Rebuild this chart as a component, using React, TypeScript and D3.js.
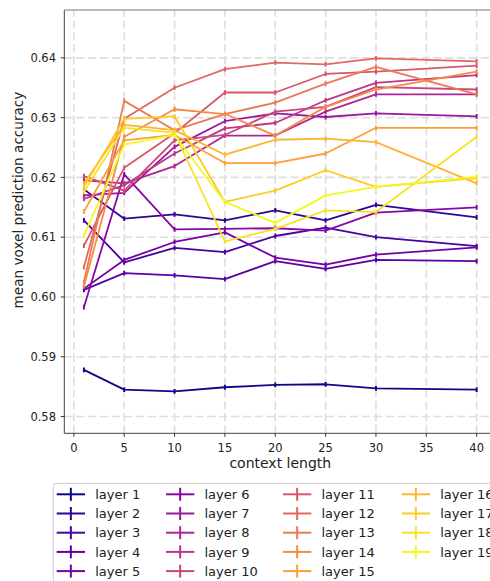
import React from 'react';
import * as d3 from 'd3';

const X_VALUES = [1, 5, 10, 15, 20, 25, 30, 40];
const X_TICKS = [0, 5, 10, 15, 20, 25, 30, 35, 40];
const Y_TICKS = [0.58, 0.59, 0.6, 0.61, 0.62, 0.63, 0.64];
const X_DOMAIN: [number, number] = [-0.95, 41.95];
const Y_DOMAIN: [number, number] = [0.5772, 0.648];

const LAYER_1 = [0.5878, 0.5845, 0.5842, 0.5849, 0.5853, 0.5854, 0.5847, 0.5845];
const LAYER_2 = [0.618, 0.6131, 0.6138, 0.6128, 0.6145, 0.6128, 0.6154, 0.6133];
const LAYER_3 = [0.6128, 0.6058, 0.6082, 0.6075, 0.6102, 0.6116, 0.61, 0.6085];
const LAYER_4 = [0.6012, 0.604, 0.6036, 0.603, 0.606, 0.6047, 0.6062, 0.606];
const LAYER_5 = [0.6014, 0.6062, 0.6092, 0.6108, 0.6066, 0.6054, 0.6071, 0.6083];
const LAYER_6 = [0.5983, 0.6205, 0.6113, 0.6114, 0.6115, 0.6111, 0.6141, 0.615];
const LAYER_7 = [0.617, 0.6174, 0.6251, 0.6294, 0.6307, 0.6301, 0.6307, 0.6302];
const LAYER_8 = [0.6195, 0.619, 0.6219, 0.627, 0.627, 0.631, 0.6339, 0.6339];
const LAYER_9 = [0.6164, 0.6187, 0.624, 0.6282, 0.6291, 0.6329, 0.6358, 0.6371];
const LAYER_10 = [0.6202, 0.6178, 0.6262, 0.6271, 0.631, 0.6318, 0.6351, 0.6347];
const LAYER_11 = [0.6086, 0.6216, 0.6274, 0.6342, 0.6342, 0.6373, 0.6377, 0.6387];
const LAYER_12 = [0.605, 0.6298, 0.635, 0.6381, 0.6392, 0.6389, 0.6399, 0.6394];
const LAYER_13 = [0.6025, 0.6328, 0.6279, 0.6306, 0.6325, 0.6357, 0.6385, 0.6339];
const LAYER_14 = [0.6018, 0.6268, 0.6314, 0.6306, 0.627, 0.6318, 0.6347, 0.6377];
const LAYER_15 = [0.6143, 0.6262, 0.6271, 0.6224, 0.6224, 0.624, 0.6283, 0.6283];
const LAYER_16 = [0.619, 0.6288, 0.6279, 0.6238, 0.6263, 0.6265, 0.6259, 0.619];
const LAYER_17 = [0.6184, 0.6298, 0.6302, 0.6159, 0.6178, 0.6212, 0.6184, 0.6199];
const LAYER_18 = [0.6176, 0.6283, 0.6275, 0.6093, 0.6114, 0.6145, 0.6142, 0.6268];
const LAYER_19 = [0.6103, 0.6255, 0.6271, 0.6159, 0.6124, 0.617, 0.6184, 0.6201];

const SERIES = [
  LAYER_1, LAYER_2, LAYER_3, LAYER_4, LAYER_5, LAYER_6, LAYER_7, LAYER_8, LAYER_9, LAYER_10,
  LAYER_11, LAYER_12, LAYER_13, LAYER_14, LAYER_15, LAYER_16, LAYER_17, LAYER_18, LAYER_19,
];
const LAYER_NAMES = SERIES.map((_, i) => `layer ${i + 1}`);
const LAYER_ERR = [
  0.0004, 0.0004, 0.0004, 0.0004, 0.0004, 0.0004, 0.0004, 0.0004, 0.0004, 0.0004,
  0.0004, 0.0004, 0.0004, 0.0004, 0.0004, 0.0004, 0.0004, 0.0004, 0.0004,
];

const FONT = '"DejaVu Sans", Verdana, sans-serif';

export default function App() {
  const W = 490;
  const H = 581;
  const left = 64.3;
  const right = 496.3;
  const top = 10;
  const bottom = 433.3;

  const x = d3.scaleLinear().domain(X_DOMAIN).range([left, right]);
  const y = d3.scaleLinear().domain(Y_DOMAIN).range([bottom, top]);
  const color = (i: number) => d3.interpolatePlasma(i / (SERIES.length - 1));
  const line = d3
    .line<number>()
    .x((_, i) => x(X_VALUES[i]))
    .y((d) => y(d));

  const gridColor = '#dedede';
  const gridDash = '8.3 3.6';

  // legend layout
  const legLeft = 53.3;
  const legTop = 483.3;
  const rowY0 = 494.3;
  const rowStep = 19.2;
  const colX = [56.7, 166, 283, 401.7];
  const rowsPerCol = 5;

  return (
    <svg
      width={W}
      height={H}
      style={{ position: 'absolute', left: 0, top: 0, background: '#fff' }}
      fontFamily={FONT}
    >
      <defs>
        <clipPath id="plotClip">
          <rect x={left} y={top} width={right - left} height={bottom - top} />
        </clipPath>
      </defs>
      <rect x={0} y={0} width={W} height={H} fill="#fff" />

      {/* grid */}
      <g>
        {X_TICKS.map((t) => (
          <line
            key={'gx' + t}
            x1={x(t)}
            x2={x(t)}
            y1={bottom}
            y2={top}
            stroke={gridColor}
            strokeWidth={1.6}
            strokeDasharray={gridDash}
          />
        ))}
        {Y_TICKS.map((t) => (
          <line
            key={'gy' + t}
            x1={left}
            x2={right}
            y1={y(t)}
            y2={y(t)}
            stroke={gridColor}
            strokeWidth={1.6}
            strokeDasharray={gridDash}
          />
        ))}
      </g>

      {/* series */}
      <g clipPath="url(#plotClip)">
        {SERIES.map((s, i) => (
          <g key={'s' + i} stroke={color(i)} fill="none" strokeWidth={1.8}>
            <path d={line(s) || ''} strokeLinejoin="round" />
            {s.map((v, j) => (
              <line
                key={j}
                x1={x(X_VALUES[j])}
                x2={x(X_VALUES[j])}
                y1={y(v - LAYER_ERR[i])}
                y2={y(v + LAYER_ERR[i])}
                strokeWidth={2}
              />
            ))}
          </g>
        ))}
      </g>

      {/* spines */}
      <g stroke="#444" strokeWidth={1} fill="none">
        <line x1={left} x2={left} y1={top} y2={bottom} />
        <line x1={left} x2={right} y1={bottom} y2={bottom} />
        <line x1={left} x2={right} y1={top} y2={top} stroke="#777" />
        <line x1={right} x2={right} y1={top} y2={bottom} />
      </g>

      {/* ticks */}
      <g stroke="#333" strokeWidth={1}>
        {X_TICKS.map((t) => (
          <line key={'tx' + t} x1={x(t)} x2={x(t)} y1={bottom} y2={bottom + 3.5} />
        ))}
        {Y_TICKS.map((t) => (
          <line key={'ty' + t} x1={left - 3.5} x2={left} y1={y(t)} y2={y(t)} />
        ))}
      </g>
      <g fontSize={11.5} fill="#222">
        {X_TICKS.map((t) => (
          <text key={'lx' + t} x={x(t)} y={451.5} textAnchor="middle">
            {d3.format('d')(t)}
          </text>
        ))}
        {Y_TICKS.map((t) => (
          <text key={'ly' + t} x={56} y={y(t) + 4.1} textAnchor="end">
            {d3.format('.2f')(t)}
          </text>
        ))}
      </g>

      {/* axis labels */}
      <text x={(left + right) / 2} y={468.3} textAnchor="middle" fontSize={14} fill="#222">
        context length
      </text>
      <text
        transform={`translate(22.7,200) rotate(-90)`}
        textAnchor="middle"
        fontSize={13.6}
        fill="#222"
      >
        mean voxel prediction accuracy
      </text>

      {/* legend */}
      <g>
        <rect
          x={legLeft}
          y={legTop}
          width={480}
          height={130}
          rx={3}
          fill="#fff"
          fillOpacity={0.8}
          stroke="#cccccc"
          strokeWidth={1}
        />
        {LAYER_NAMES.map((name, i) => {
          const c = Math.floor(i / rowsPerCol);
          const r = i % rowsPerCol;
          const hx = colX[c];
          const cy = rowY0 + r * rowStep;
          return (
            <g key={'lg' + i}>
              <g stroke={color(i)} strokeWidth={2}>
                <line x1={hx} x2={hx + 28.3} y1={cy} y2={cy} />
                <line x1={hx + 14.15} x2={hx + 14.15} y1={cy - 6.5} y2={cy + 6.5} />
              </g>
              <text x={hx + 38.5} y={cy + 4.6} fontSize={13} fill="#222">
                {name}
              </text>
            </g>
          );
        })}
      </g>
    </svg>
  );
}
